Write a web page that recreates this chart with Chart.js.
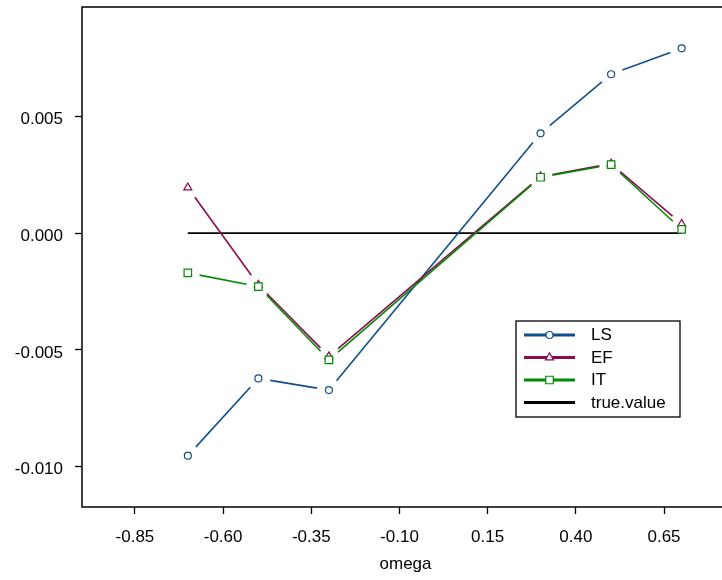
<!DOCTYPE html>
<html lang="en">
<head>
	<meta charset="utf-8">
	<title>omega</title>
	<script src="https://cdn.jsdelivr.net/npm/chart.js@4/dist/chart.umd.min.js"></script>
	<style>
		html, body {margin: 0; padding: 0; background: #fff; overflow: hidden;}
		#wrap {width: 730px; height: 580px;}
	</style>
</head>
<body>
	<div id="wrap"><canvas id="grafico" width="730" height="580"></canvas></div>

<script>
	// data
	const omega = [-0.7, -0.5, -0.3, 0.3, 0.5, 0.7];
	const ls = [-0.00953, -0.00622, -0.00672, 0.00427, 0.00680, 0.00791];
	const ef = [0.00195, -0.00222, -0.00528, 0.00242, 0.00297, 0.00039];
	const it = [-0.00170, -0.00229, -0.00543, 0.00239, 0.00293, 0.00016];
	const trueValue = [0, 0, 0, 0, 0, 0];

	const xTicks = [-0.85, -0.60, -0.35, -0.10, 0.15, 0.40, 0.65];
	const yTicks = [-0.010, -0.005, 0.000, 0.005];
	const seriesNames = ["LS", "EF", "IT", "true.value"];

	const FONT = "'Liberation Sans', Arial, sans-serif";
	const GAP = 12; // R type="b": line stops short of the points

	function pares(xs, ys) {
		return xs.map(function(x, i) { return {x: x, y: ys[i]}; });
	}

	// dash pattern that leaves a gap at both ends of each segment
	function gapDash(ctx) {
		const dx = ctx.p1.x - ctx.p0.x, dy = ctx.p1.y - ctx.p0.y;
		const L = Math.sqrt(dx * dx + dy * dy);
		if (L <= 2 * GAP) return [0, L + 1];
		return [0, GAP, L - 2 * GAP, GAP + 1000 + ctx.p0DataIndex * 0.001];
	}

	function serie(label, ys, color, style, radius, order) {
		return {
			label: label,
			data: pares(omega, ys),
			borderColor: color,
			borderWidth: 1.6,
			pointStyle: style,
			pointRadius: radius,
			pointBorderWidth: 1.2,
			pointBorderColor: color,
			pointBackgroundColor: "#fff",
			tension: 0,
			order: order,
			segment: {borderDash: gapDash}
		};
	}

	function desenhaPonto(ctx, style, x, y, r) {
		ctx.beginPath();
		if (style == "circle") {
			ctx.arc(x, y, r, 0, Math.PI * 2);
		} else if (style == "triangle") {
			ctx.moveTo(x, y - r);
			ctx.lineTo(x + r * Math.sqrt(3) / 2, y + r / 2);
			ctx.lineTo(x - r * Math.sqrt(3) / 2, y + r / 2);
			ctx.closePath();
		} else if (style == "rect") {
			const s = Math.SQRT1_2 * r;
			ctx.rect(x - s, y - s, 2 * s, 2 * s);
		}
		ctx.fill();
		ctx.stroke();
	}

	const moldura = {
		id: "moldura",
		afterDraw: function(chart) {
			const ctx = chart.ctx;
			const a = chart.chartArea;
			ctx.save();
			ctx.strokeStyle = "#000";
			ctx.lineWidth = 1.5;
			ctx.strokeRect(a.left, a.top, a.right - a.left, a.bottom - a.top);

			// legend box
			const bx = 516, by = 321, bw = 164, bh = 96;
			ctx.fillStyle = "#fff";
			ctx.fillRect(bx, by, bw, bh);
			ctx.lineWidth = 1.3;
			ctx.strokeRect(bx, by, bw, bh);

			const rows = [335, 357.5, 380, 402.5];
			chart.data.datasets.forEach(function(ds, i) {
				const y = rows[i];
				ctx.strokeStyle = ds.borderColor;
				ctx.lineWidth = 2.8;
				ctx.setLineDash([]);
				ctx.beginPath();
				ctx.moveTo(524, y);
				ctx.lineTo(575, y);
				ctx.stroke();
				if (ds.pointRadius > 0) {
					ctx.lineWidth = 1.2;
					ctx.fillStyle = "#fff";
					desenhaPonto(ctx, ds.pointStyle, 549.5, y, ds.pointRadius);
				}
				ctx.fillStyle = "#000";
				ctx.font = "17px " + FONT;
				ctx.textAlign = "left";
				ctx.textBaseline = "middle";
				ctx.fillText(seriesNames[i], 591, y + 0.5);
			});
			ctx.restore();
		}
	};

	const datasets = [
		serie(seriesNames[0], ls, "#104E8B", "circle", 3.5, 2),
		serie(seriesNames[1], ef, "#8B0A50", "triangle", 4.6, 1),
		serie(seriesNames[2], it, "#008B00", "rect", 5.3, 0),
		{
			label: seriesNames[3],
			data: pares(omega, trueValue),
			borderColor: "#000",
			borderWidth: 1.7,
			pointRadius: 0,
			tension: 0,
			order: 3
		}
	];

	Chart.defaults.font.family = FONT;
	Chart.defaults.font.size = 17;
	Chart.defaults.color = "#000";

	new Chart(document.getElementById("grafico"), {
		type: "line",
		data: {datasets: datasets},
		plugins: [moldura],
		options: {
			responsive: false,
			animation: false,
			devicePixelRatio: 1,
			layout: {autoPadding: false, padding: {top: 7, right: 1, left: 0, bottom: 0}},
			plugins: {
				legend: {display: false},
				tooltip: {enabled: false}
			},
			scales: {
				x: {
					type: "linear",
					min: -1.0,
					max: 0.8342,
					afterBuildTicks: function(scale) {
						scale.ticks = xTicks.map(function(v) { return {value: v}; });
					},
					afterFit: function(scale) {
						scale.height = 73;
						scale.paddingLeft = 0;
						scale.paddingRight = 0;
					},
					border: {display: false},
					grid: {drawOnChartArea: false, drawTicks: true, tickLength: 7, tickColor: "#000", tickWidth: 1.3},
					ticks: {
						autoSkip: false,
						maxRotation: 0,
						padding: 13,
						callback: function(v) { return v.toFixed(2); }
					},
					title: {display: true, text: "omega", padding: {top: 0, bottom: 5}}
				},
				y: {
					type: "linear",
					min: -0.011725,
					max: 0.009679,
					afterBuildTicks: function(scale) {
						scale.ticks = yTicks.map(function(v) { return {value: v}; });
					},
					afterFit: function(scale) {
						scale.width = 82;
						scale.paddingTop = 0;
						scale.paddingBottom = 0;
					},
					border: {display: false},
					grid: {drawOnChartArea: false, drawTicks: true, tickLength: 7, tickColor: "#000", tickWidth: 1.3},
					ticks: {
						padding: 12,
						labelOffset: 3,
						callback: function(v) { return v.toFixed(3); }
					}
				}
			}
		}
	});
</script>
</body>
</html>
